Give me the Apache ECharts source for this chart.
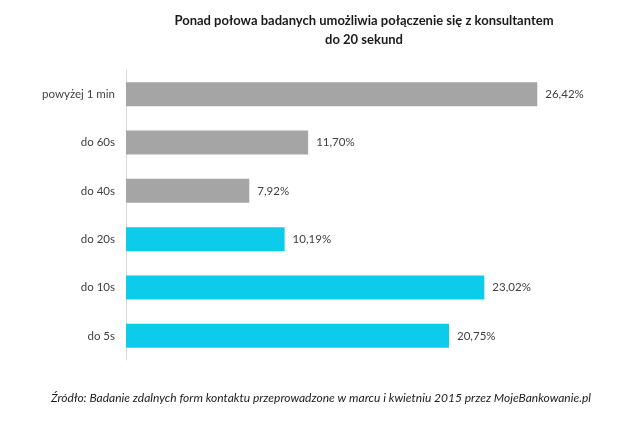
<!DOCTYPE html>
<html><head><meta charset="utf-8">
<script src="https://cdn.jsdelivr.net/npm/echarts@6/dist/echarts.min.js"></script>
<style>html,body{margin:0;padding:0;background:#fff}#c{width:640px;height:422px}</style>
</head><body><div id="c"></div>
<script>
const categories = ['powyżej 1 min', 'do 60s', 'do 40s', 'do 20s', 'do 10s', 'do 5s'];
const values = [26.42, 11.70, 7.92, 10.19, 23.02, 20.75];
const barColors = ['#a5a5a5', '#a5a5a5', '#a5a5a5', '#0dcbeb', '#0dcbeb', '#0dcbeb'];
const titleText = 'Ponad połowa badanych umożliwia połączenie się z konsultantem\ndo 20 sekund';
const sourceText = 'Źródło: Badanie zdalnych form kontaktu przeprowadzone w marcu i kwietniu 2015 przez MojeBankowanie.pl';

const chart = echarts.init(document.getElementById('c'));
const font = 'Lato, "Open Sans", sans-serif';
chart.setOption({
  backgroundColor: '#fff',
  animation: false,
  title: [{
    text: titleText, left: 359, top: 6, textAlign: 'center',
    textStyle: { fontFamily: font, fontSize: 13, fontWeight: 'bold', color: '#1a1a1a', lineHeight: 19 }
  }, {
    text: sourceText, left: 316, top: 387, textAlign: 'center',
    textStyle: { fontFamily: font, fontSize: 12, fontStyle: 'italic', fontWeight: 'normal', color: '#1a1a1a' }
  }],
  grid: { left: 126, top: 70, bottom: 62, right: 47, containLabel: false },
  xAxis: { type: 'value', min: 0, max: 30, show: false },
  yAxis: {
    type: 'category', data: categories, inverse: true,
    axisLine: { show: true, lineStyle: { color: '#d9d9d9', width: 1 } },
    axisTick: { show: false },
    axisLabel: { margin: 11, fontFamily: font, fontSize: 11.5, color: '#404040' }
  },
  series: [{
    type: 'bar', barWidth: 24,
    data: values.map((v, i) => ({ value: v, itemStyle: { color: barColors[i] } })),
    label: {
      show: true, position: 'right', distance: 8,
      fontFamily: font, fontSize: 11.5, color: '#404040',
      formatter: p => p.value.toFixed(2).replace('.', ',') + '%'
    }
  }]
});
</script></body></html>
